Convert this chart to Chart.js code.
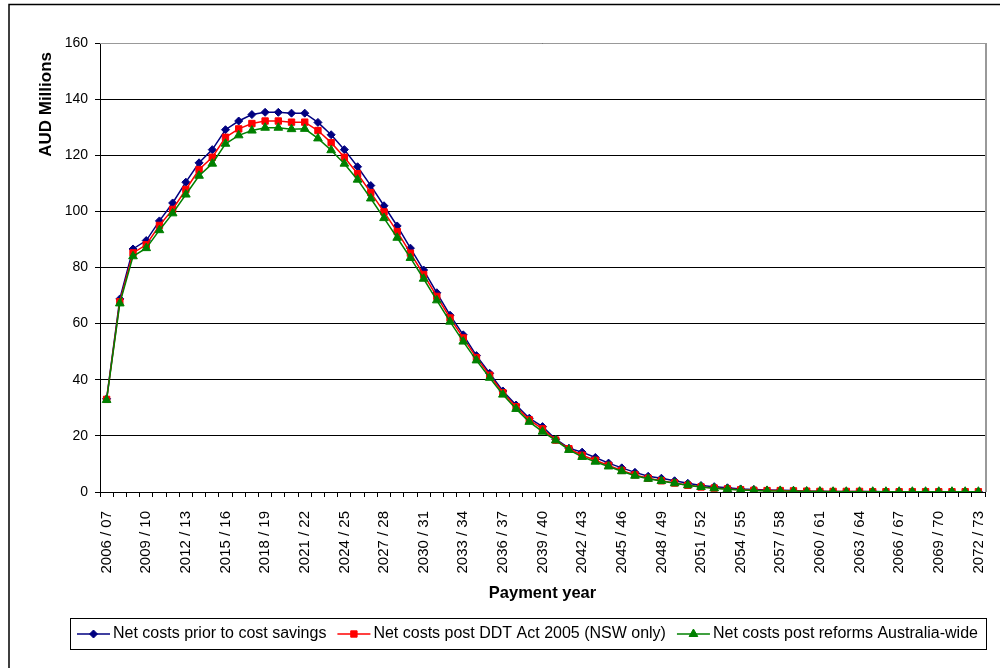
<!DOCTYPE html>
<html>
<head>
<meta charset="utf-8">
<script src="https://cdn.jsdelivr.net/npm/chart.js@4"></script>
<style>
  html, body { margin: 0; padding: 0; background: #fff; }
  #wrap { width: 1000px; height: 668px; }
</style>
</head>
<body>
<div id="wrap"><canvas id="chart" width="1000" height="668"></canvas></div>
<script>
(function () {
    'use strict';

    // payment years 2006 / 07 ... 2072 / 73
    const paymentYears = [];
    for (let y = 2006; y <= 2072; y++) {
        paymentYears.push(y + ' / ' + String((y + 1) % 100).padStart(2, '0'));
    }

    const yTicks = [0, 20, 40, 60, 80, 100, 120, 140, 160];

    const priorCosts = [
        33.2, 68.8, 86.6, 89.6, 96.6, 103.0, 110.4, 117.3, 122.0, 129.1,
        132.2, 134.5, 135.3, 135.3, 135.0, 135.0, 131.7, 127.3, 122.0, 115.9,
        109.2, 102.0, 94.8, 86.9, 79.1, 71.0, 63.0, 56.0, 48.6, 42.3,
        36.0, 31.0, 26.3, 23.3, 18.8, 15.6, 14.2, 12.3, 10.3, 8.6,
        7.0, 5.6, 4.9, 4.0, 3.1, 2.3, 1.9, 1.5, 1.1, 0.9,
        0.7, 0.6, 0.5, 0.3, 0.3, 0.2, 0.2, 0.2, 0.2, 0.1,
        0.1, 0.1, 0.1, 0.1, 0.1, 0.1, 0.1
    ];
    const postNswCosts = [
        33.0, 67.8, 85.2, 88.1, 95.0, 100.7, 107.8, 114.9, 119.3, 126.4,
        129.4, 131.3, 132.2, 132.2, 131.8, 131.8, 128.8, 124.5, 119.3, 113.4,
        106.7, 99.8, 92.8, 85.1, 77.5, 69.7, 62.0, 54.9, 47.9, 41.6,
        35.4, 30.4, 25.7, 22.5, 18.5, 15.4, 13.1, 11.3, 9.5, 7.7,
        6.1, 4.9, 4.0, 3.2, 2.4, 1.8, 1.4, 1.1, 0.8, 0.6,
        0.5, 0.5, 0.4, 0.3, 0.2, 0.2, 0.2, 0.2, 0.1, 0.1,
        0.1, 0.1, 0.1, 0.1, 0.1, 0.1, 0.1
    ];
    const postAusCosts = [
        32.8, 67.2, 84.0, 86.9, 93.3, 99.3, 106.0, 112.7, 117.0, 124.1,
        127.1, 128.8, 129.8, 129.8, 129.3, 129.4, 126.0, 121.8, 117.0, 111.3,
        104.6, 97.6, 90.6, 83.4, 76.0, 68.3, 60.7, 53.6, 46.9, 40.7,
        34.7, 29.6, 25.0, 21.5, 18.4, 15.0, 12.5, 10.8, 9.1, 7.4,
        5.8, 4.7, 3.9, 3.1, 2.4, 1.8, 1.3, 1.0, 0.7, 0.5,
        0.4, 0.4, 0.3, 0.2, 0.2, 0.1, 0.1, 0.1, 0.1, 0.1,
        0.1, 0.1, 0.1, 0.1, 0.1, 0.1, 0.1
    ];

    const FONT = "'Liberation Sans', Arial, sans-serif";
    Chart.defaults.font.family = FONT;
    Chart.defaults.color = '#000';

    function series(label, data, color, shape, radius, order) {
        return {
            label, data, order,
            borderColor: color,
            backgroundColor: color,
            borderWidth: 1.5,
            pointStyle: shape,
            pointRadius: radius,
            pointBorderWidth: 1,
            pointBackgroundColor: color,
            pointBorderColor: color,
            tension: 0
        };
    }

    // outer frame + plot border + boxed legend, drawn by hand like Excel does
    const excelBits = {
        id: 'excelBits',
        beforeDraw(chart) {
            const ctx = chart.ctx;
            ctx.save();
            ctx.fillStyle = '#fff';
            ctx.fillRect(0, 0, chart.width, chart.height);
            ctx.strokeStyle = '#000';
            ctx.lineWidth = 1.5;
            ctx.beginPath();
            ctx.moveTo(9, chart.height + 2);
            ctx.lineTo(9, 4.5);
            ctx.lineTo(chart.width + 2, 4.5);
            ctx.stroke();
            ctx.restore();
        },
        afterDraw(chart) {
            const ctx = chart.ctx;
            const a = chart.chartArea;
            ctx.save();
            ctx.strokeStyle = '#999';
            ctx.lineWidth = 1;
            ctx.beginPath();
            ctx.moveTo(a.left, a.top + 0.5);
            ctx.lineTo(a.right + 0.5, a.top + 0.5);
            ctx.stroke();
            ctx.lineWidth = 2;
            ctx.beginPath();
            ctx.moveTo(a.right + 1, a.top);
            ctx.lineTo(a.right + 1, a.bottom);
            ctx.stroke();

            // y title sits at the top of the axis in the original
            ctx.fillStyle = '#000';
            ctx.font = 'bold 17px ' + FONT;
            ctx.textAlign = 'right';
            ctx.textBaseline = 'middle';
            ctx.translate(46, 52);
            ctx.rotate(-Math.PI / 2);
            ctx.fillText('AUD Millions', 0, 0);
            ctx.setTransform(1, 0, 0, 1, 0, 0);

            // legend
            ctx.textAlign = 'left';
            ctx.strokeStyle = '#000';
            ctx.lineWidth = 1;
            ctx.strokeRect(70.5, 618.5, 916, 31);
            ctx.font = '16px ' + FONT;
            let x = 77;
            const y = 634;
            chart.data.datasets.forEach(ds => {
                ctx.strokeStyle = ds.borderColor;
                ctx.fillStyle = ds.borderColor;
                ctx.lineWidth = 1.5;
                ctx.beginPath();
                ctx.moveTo(x, y);
                ctx.lineTo(x + 33, y);
                ctx.stroke();
                ctx.lineWidth = 1;
                Chart.helpers.drawPoint(ctx, {
                    pointStyle: ds.pointStyle, radius: ds.pointRadius, rotation: 0, borderWidth: 1
                }, x + 16.5, y);
                ctx.fillStyle = '#000';
                ctx.fillText(ds.label, x + 36, y);
                x += 36 + ctx.measureText(ds.label).width + 11;
            });
            ctx.restore();
        }
    };

    new Chart(document.getElementById('chart'), {
        type: 'line',
        data: {
            labels: paymentYears,
            datasets: [
                series('Net costs prior to cost savings', priorCosts, '#000080', 'rectRot', 4, 3),
                series('Net costs post DDT Act 2005 (NSW only)', postNswCosts, '#ff0000', 'rect', 4.5, 2),
                series('Net costs post reforms Australia-wide', postAusCosts, '#008000', 'triangle', 5, 1)
            ]
        },
        options: {
            responsive: false,
            animation: false,
            devicePixelRatio: 1,
            layout: { padding: { left: 0, right: 15, top: 43, bottom: 0 } },
            plugins: { legend: { display: false }, tooltip: { enabled: false } },
            scales: {
                x: {
                    type: 'category',
                    offset: true,
                    grid: { offset: true, drawOnChartArea: false, drawTicks: true, tickLength: 5, color: '#000' },
                    border: { color: '#000', width: 1 },
                    ticks: {
                        autoSkip: false,
                        maxRotation: 90,
                        minRotation: 90,
                        padding: 14,
                        font: { size: 15 },
                        callback: (v, i) => (i % 3 === 0 ? paymentYears[i] : '')
                    },
                    title: {
                        display: true,
                        text: 'Payment year',
                        font: { size: 16.5, weight: 'bold' },
                        padding: { top: 0, bottom: 65 }
                    },
                    afterFit(s) {
                        s.height = 176;
                        s.paddingLeft = 0;
                        s.paddingRight = 0;
                    }
                },
                y: {
                    min: yTicks[0],
                    max: yTicks[yTicks.length - 1],
                    afterBuildTicks(s) { s.ticks = yTicks.map(v => ({ value: v })); },
                    grid: { color: '#000', tickLength: 5 },
                    border: { color: '#000', width: 1 },
                    ticks: { font: { size: 14 }, padding: 7 },
                    afterFit(s) {
                        s.width = 100;
                        s.paddingTop = 0;
                        s.paddingBottom = 0;
                    }
                }
            }
        },
        plugins: [excelBits]
    });
})();
</script>
</body>
</html>
